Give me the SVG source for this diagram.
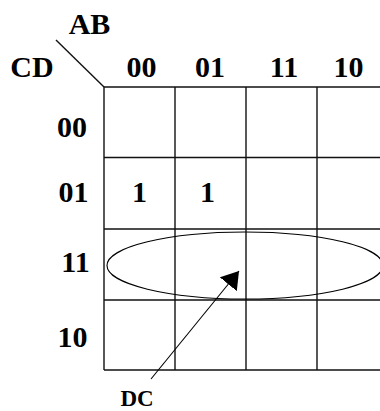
<svg xmlns="http://www.w3.org/2000/svg" width="380" height="411" viewBox="0 0 380 411">
<style>
.t{font-family:"Liberation Serif","Times New Roman",serif;font-weight:bold;font-size:30px;fill:#000;text-anchor:middle}
.g{stroke:#111;stroke-width:1.4;fill:none}
</style>
<defs>
<marker id="ah" viewBox="0 0 17 22" refX="17" refY="11" markerWidth="17" markerHeight="22" markerUnits="userSpaceOnUse" orient="auto">
<path d="M0,0 L17,11 L0,22 Z" fill="#000"/>
</marker>
</defs>
<rect width="380" height="411" fill="#fff"/>
<g id="grid" class="g">
<line x1="56" y1="40" x2="104" y2="87"/>
<line x1="104" y1="87" x2="380" y2="87"/>
<line x1="104" y1="157.5" x2="380" y2="157.5"/>
<line x1="104" y1="229" x2="380" y2="229"/>
<line x1="104" y1="300" x2="380" y2="300"/>
<line x1="104" y1="370" x2="380" y2="370"/>
<line x1="104" y1="87" x2="104" y2="370"/>
<line x1="175" y1="87" x2="175" y2="370"/>
<line x1="246" y1="87" x2="246" y2="370"/>
<line x1="317" y1="87" x2="317" y2="370"/>
</g>
<g id="labels">
<text class="t" x="89.5" y="34">AB</text>
<text class="t" x="32" y="77">CD</text>
<text class="t" x="141.5" y="77">00</text>
<text class="t" x="210" y="77">01</text>
<text class="t" x="284" y="77">11</text>
<text class="t" x="348.5" y="77">10</text>
<text class="t" x="72" y="137">00</text>
<text class="t" x="73.5" y="202">01</text>
<text class="t" x="75.5" y="272">11</text>
<text class="t" x="72.5" y="347">10</text>
</g>
<g id="cells">
<text class="t" x="139.5" y="202">1</text>
<text class="t" x="207.5" y="202">1</text>
</g>
<g id="dc-group">
<ellipse cx="245" cy="265.5" rx="138" ry="33.5" fill="none" stroke="#000" stroke-width="1.1"/>
</g>
<g id="dc-label">
<text class="t" x="137" y="406" style="font-size:23px">DC</text>
</g>
<g id="connectors">
<line x1="151" y1="379" x2="239" y2="271" stroke="#000" stroke-width="1.1" marker-end="url(#ah)"/>
</g>
</svg>
